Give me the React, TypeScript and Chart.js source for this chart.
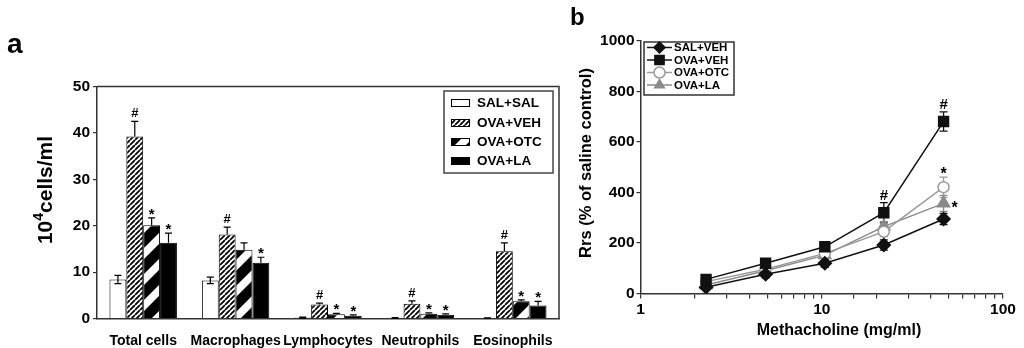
import { useEffect, useRef } from "react";
import { Chart, registerables } from "chart.js";
Chart.register(...registerables);

const FONT = "'Liberation Sans', Arial, Helvetica, sans-serif";

// ---------- Panel a: BAL cell counts ----------
const cellCategories = ["Total cells", "Macrophages", "Lymphocytes", "Neutrophils", "Eosinophils"];
const barSeriesNames = ["SAL+SAL", "OVA+VEH", "OVA+OTC", "OVA+LA"];
const salSalCells = [8.4, 8.2, 0.2, 0.15, 0.1];
const salSalCellsErr = [0.9, 0.7, 0.1, 0.05, 0.05];
const ovaVehCells = [39.2, 18.1, 3.0, 3.2, 14.5];
const ovaVehCellsErr = [3.3, 1.6, 0.3, 0.6, 1.8];
const ovaOtcCells = [20.1, 14.8, 0.9, 1.0, 3.7];
const ovaOtcCellsErr = [1.6, 1.5, 0.2, 0.2, 0.3];
const ovaLaCells = [16.3, 12.0, 0.6, 0.8, 2.8];
const ovaLaCellsErr = [2.1, 1.2, 0.2, 0.2, 0.9];
const salSalCellsMarks = ["", "", "", "", ""];
const ovaVehCellsMarks = ["#", "#", "#", "#", "#"];
const ovaOtcCellsMarks = ["*", "", "*", "*", "*"];
const ovaLaCellsMarks = ["*", "*", "*", "*", "*"];
const cellAxisMin = 0;
const cellAxisMax = 50;
const cellAxisStep = 10;

// ---------- Panel b: airway resistance ----------
const lineSeriesNames = ["SAL+VEH", "OVA+VEH", "OVA+OTC", "OVA+LA"];
const methacholineDoses = [2.3, 4.9, 10.4, 22, 47];
const salVehRrs = [25, 76, 120, 192, 295];
const salVehRrsErr = [10, 14, 16, 20, 22];
const ovaVehRrs = [56, 120, 185, 320, 681];
const ovaVehRrsErr = [12, 14, 15, 40, 38];
const ovaOtcRrs = [47, 96, 159, 245, 421];
const ovaOtcRrsErr = [10, 14, 15, 20, 40];
const ovaLaRrs = [34, 90, 152, 265, 357];
const ovaLaRrsErr = [10, 14, 15, 20, 32];
const salVehRrsMarks = ["", "", "", "", ""];
const ovaVehRrsMarks = ["", "", "", "#", "#"];
const ovaOtcRrsMarks = ["", "", "", "", "*"];
const ovaLaRrsMarks = ["", "", "", "", "*"];
const doseTickLabels = [1, 10, 100];
const rrsAxisMin = 0;
const rrsAxisMax = 1000;
const rrsAxisStep = 200;

function makeHatch(): CanvasPattern | string {
  const s = 5;
  const c = document.createElement("canvas");
  c.width = s;
  c.height = s;
  const g = c.getContext("2d")!;
  g.fillStyle = "#fff";
  g.fillRect(0, 0, s, s);
  g.strokeStyle = "#000";
  g.lineWidth = 1.8;
  g.beginPath();
  for (let k = -1; k <= 1; k++) {
    g.moveTo(k * s, s);
    g.lineTo(k * s + s, 0);
  }
  g.stroke();
  return g.createPattern(c, "repeat") || "#888";
}

function makeStripes(): CanvasPattern | string {
  const P = 26;
  const c = document.createElement("canvas");
  c.width = P;
  c.height = P;
  const g = c.getContext("2d")!;
  g.fillStyle = "#000";
  g.fillRect(0, 0, P, P);
  g.fillStyle = "#fff";
  const c1 = 2;
  const c2 = 13;
  for (let k = -1; k <= 2; k++) {
    g.beginPath();
    g.moveTo(c1 + k * P, 0);
    g.lineTo(c2 + k * P, 0);
    g.lineTo(c2 + k * P - P, P);
    g.lineTo(c1 + k * P - P, P);
    g.closePath();
    g.fill();
  }
  return g.createPattern(c, "repeat") || "#444";
}

export default function App() {
  const refA = useRef<HTMLCanvasElement>(null);
  const refB = useRef<HTMLCanvasElement>(null);

  useEffect(() => {
    const hatch = makeHatch();
    const stripes = makeStripes();
    const fills = ["#fff", hatch, stripes, "#000"];
    const barValues = [salSalCells, ovaVehCells, ovaOtcCells, ovaLaCells];
    const barErrs = [salSalCellsErr, ovaVehCellsErr, ovaOtcCellsErr, ovaLaCellsErr];
    const barMarks = [salSalCellsMarks, ovaVehCellsMarks, ovaOtcCellsMarks, ovaLaCellsMarks];

    const panelAPlugin = {
      id: "panelA",
      afterDatasetsDraw(chart: any) {
        const ctx = chart.ctx as CanvasRenderingContext2D;
        const ys = chart.scales.y;
        const area = chart.chartArea;
        ctx.save();
        chart.data.datasets.forEach((ds: any, di: number) => {
          const meta = chart.getDatasetMeta(di);
          meta.data.forEach((bar: any, i: number) => {
            const v = ds.data[i];
            const e = barErrs[di][i];
            const x = bar.x;
            const yTop = ys.getPixelForValue(v + e);
            const yV = ys.getPixelForValue(v);
            const yBot = di === 0 ? ys.getPixelForValue(Math.max(0, v - e)) : yV;
            ctx.strokeStyle = "#000";
            ctx.lineWidth = 1.2;
            ctx.beginPath();
            ctx.moveTo(x, yBot);
            ctx.lineTo(x, yTop);
            ctx.moveTo(x - 3.5, yTop);
            ctx.lineTo(x + 3.5, yTop);
            if (di === 0) {
              ctx.moveTo(x - 3.5, yBot);
              ctx.lineTo(x + 3.5, yBot);
            }
            ctx.stroke();
            const m = barMarks[di][i];
            if (m) {
              ctx.fillStyle = "#000";
              ctx.textAlign = "center";
              ctx.textBaseline = "alphabetic";
              if (m === "#") {
                ctx.font = `bold 13px ${FONT}`;
                ctx.fillText(m, x, yTop - 4);
              } else {
                ctx.font = `bold 15px ${FONT}`;
                ctx.fillText(m, x, yTop + 1);
              }
            }
          });
        });
        ctx.strokeStyle = "#333";
        ctx.lineWidth = 1.5;
        ctx.beginPath();
        ctx.moveTo(area.left, area.top);
        ctx.lineTo(area.right, area.top);
        ctx.lineTo(area.right, area.bottom);
        ctx.stroke();
        const lx = 444, ly = 91, lw = 109, lh = 82;
        ctx.fillStyle = "#fff";
        ctx.fillRect(lx, ly, lw, lh);
        ctx.strokeStyle = "#444";
        ctx.lineWidth = 1.5;
        ctx.strokeRect(lx, ly, lw, lh);
        const rows = [103, 123, 142, 161];
        barSeriesNames.forEach((name, k) => {
          const ry = rows[k];
          ctx.fillStyle = fills[k] as any;
          ctx.fillRect(451, ry - 4, 19, 8);
          ctx.strokeStyle = "#000";
          ctx.lineWidth = 1;
          ctx.strokeRect(451.5, ry - 3.5, 18, 7);
          ctx.fillStyle = "#000";
          ctx.font = `bold 13.5px ${FONT}`;
          ctx.textAlign = "left";
          ctx.textBaseline = "middle";
          ctx.fillText(name, 477, ry + 0.5);
        });
        ctx.translate(52, 190);
        ctx.rotate(-Math.PI / 2);
        ctx.fillStyle = "#000";
        ctx.textBaseline = "alphabetic";
        ctx.textAlign = "left";
        const big = `bold 21px ${FONT}`;
        const small = `bold 14px ${FONT}`;
        ctx.font = big;
        const w1 = ctx.measureText("10").width;
        const w3 = ctx.measureText("cells/ml").width;
        ctx.font = small;
        const w2 = ctx.measureText("4").width;
        const W = w1 + w2 + w3;
        let px = -W / 2;
        ctx.font = big;
        ctx.fillText("10", px, 0);
        px += w1;
        ctx.font = small;
        ctx.fillText("4", px, -9);
        px += w2;
        ctx.font = big;
        ctx.fillText("cells/ml", px, 0);
        ctx.restore();
        ctx.save();
        ctx.fillStyle = "#000";
        ctx.font = `bold 28px ${FONT}`;
        ctx.textAlign = "left";
        ctx.textBaseline = "alphabetic";
        ctx.fillText("a", 7, 53);
        ctx.restore();
      },
    };

    const chartA = new Chart(refA.current!, {
      type: "bar",
      data: {
        labels: cellCategories,
        datasets: barSeriesNames.map((name, k) => ({
          label: name,
          data: barValues[k],
          backgroundColor: fills[k] as any,
          borderColor: "#000",
          borderWidth: 1,
          categoryPercentage: 0.73,
          barPercentage: 1,
        })),
      },
      options: {
        responsive: false,
        animation: false,
        devicePixelRatio: 1,
        layout: { padding: { top: 86.5, right: 6, left: 0, bottom: 0 } },
        plugins: { legend: { display: false }, tooltip: { enabled: false } },
        scales: {
          x: {
            grid: { display: false },
            border: { display: true, color: "#333", width: 1.5 },
            ticks: { color: "#000", font: { family: FONT, size: 14, weight: "bold" }, padding: 6, maxRotation: 0, autoSkip: false },
            afterFit: (s: any) => { s.height = 29.5; },
          },
          y: {
            min: cellAxisMin,
            max: cellAxisMax,
            ticks: { stepSize: cellAxisStep, color: "#000", font: { family: FONT, size: 15.5, weight: "bold" }, padding: 3 },
            grid: { drawOnChartArea: false, drawTicks: true, tickLength: 4, color: "#333", lineWidth: 1.2 },
            border: { display: true, color: "#333", width: 1.5 },
            afterFit: (s: any) => { s.width = 97; },
          },
        },
      },
      plugins: [panelAPlugin],
    } as any);

    const lineValues = [salVehRrs, ovaVehRrs, ovaOtcRrs, ovaLaRrs];
    const lineErrs = [salVehRrsErr, ovaVehRrsErr, ovaOtcRrsErr, ovaLaRrsErr];
    const lineMarks = [salVehRrsMarks, ovaVehRrsMarks, ovaOtcRrsMarks, ovaLaRrsMarks];
    const lineColors = ["#111", "#111", "#9a9a9a", "#8a8a8a"];
    const markerFill = ["#111", "#111", "#fff", "#8a8a8a"];
    const markerStroke = ["#111", "#111", "#9a9a9a", "#8a8a8a"];
    const markerStyle = ["rectRot", "rect", "circle", "triangle"];
    const markerRadius = [6.5, 7, 5.5, 7];

    const drawMarker = (ctx: CanvasRenderingContext2D, k: number, x: number, y: number, r: number) => {
      ctx.fillStyle = markerFill[k];
      ctx.strokeStyle = markerStroke[k];
      ctx.lineWidth = 1.5;
      ctx.beginPath();
      const st = markerStyle[k];
      if (st === "rectRot") {
        ctx.moveTo(x, y - r); ctx.lineTo(x + r, y); ctx.lineTo(x, y + r); ctx.lineTo(x - r, y); ctx.closePath();
      } else if (st === "rect") {
        const h = r * Math.SQRT1_2;
        ctx.rect(x - h, y - h, 2 * h, 2 * h);
      } else if (st === "circle") {
        ctx.arc(x, y, r, 0, Math.PI * 2);
      } else {
        for (let j = 0; j < 3; j++) {
          const a = (j * 2 * Math.PI) / 3;
          const px = x + Math.sin(a) * r;
          const py = y - Math.cos(a) * r;
          if (j === 0) ctx.moveTo(px, py); else ctx.lineTo(px, py);
        }
        ctx.closePath();
      }
      ctx.fill();
      ctx.stroke();
    };

    const panelBPlugin = {
      id: "panelB",
      beforeDatasetsDraw(chart: any) {
        const ctx = chart.ctx as CanvasRenderingContext2D;
        const xs = chart.scales.x;
        const ys = chart.scales.y;
        ctx.save();
        lineValues.forEach((vals, k) => {
          ctx.strokeStyle = lineColors[k];
          ctx.lineWidth = 1.3;
          vals.forEach((v, i) => {
            const x = xs.getPixelForValue(methacholineDoses[i]);
            const yt = ys.getPixelForValue(v + lineErrs[k][i]);
            const yb = ys.getPixelForValue(v - lineErrs[k][i]);
            ctx.beginPath();
            ctx.moveTo(x, yb); ctx.lineTo(x, yt);
            ctx.moveTo(x - 4, yt); ctx.lineTo(x + 4, yt);
            ctx.moveTo(x - 4, yb); ctx.lineTo(x + 4, yb);
            ctx.stroke();
          });
        });
        ctx.restore();
      },
      afterDraw(chart: any) {
        const ctx = chart.ctx as CanvasRenderingContext2D;
        const xs = chart.scales.x;
        const ys = chart.scales.y;
        ctx.save();
        lineValues.forEach((vals, k) => {
          vals.forEach((v, i) => {
            const m = lineMarks[k][i];
            if (!m) return;
            const x = xs.getPixelForValue(methacholineDoses[i]);
            const yt = ys.getPixelForValue(v + lineErrs[k][i]);
            ctx.fillStyle = "#000";
            ctx.textBaseline = "alphabetic";
            if (m === "#") {
              ctx.font = `bold 15px ${FONT}`;
              ctx.textAlign = "center";
              ctx.fillText(m, x, yt - 3);
            } else if (k === 3) {
              ctx.font = `bold 16px ${FONT}`;
              ctx.textAlign = "left";
              ctx.fillText(m, x + 8, ys.getPixelForValue(v) + 10);
            } else {
              ctx.font = `bold 16px ${FONT}`;
              ctx.textAlign = "center";
              ctx.fillText(m, x, yt + 2);
            }
          });
        });
        const bx = 644 - 565, by = 42, bw = 90, bh = 53;
        ctx.fillStyle = "#fff";
        ctx.fillRect(bx, by, bw, bh);
        ctx.strokeStyle = "#333";
        ctx.lineWidth = 1.5;
        ctx.strokeRect(bx, by, bw, bh);
        const rows = [47.5, 60, 72.5, 85];
        lineSeriesNames.forEach((name, k) => {
          const ry = rows[k];
          ctx.strokeStyle = lineColors[k];
          ctx.lineWidth = 1.5;
          ctx.beginPath();
          ctx.moveTo(647 - 565, ry);
          ctx.lineTo(672 - 565, ry);
          ctx.stroke();
          drawMarker(ctx, k, 659.5 - 565, ry, k === 1 ? 6.5 : 5.5);
          ctx.fillStyle = "#000";
          ctx.font = `bold 11.5px ${FONT}`;
          ctx.textAlign = "left";
          ctx.textBaseline = "middle";
          ctx.fillText(name, 674 - 565, ry + 0.5);
        });
        ctx.fillStyle = "#000";
        ctx.font = `bold 16px ${FONT}`;
        ctx.textAlign = "center";
        ctx.textBaseline = "middle";
        ctx.fillText("Methacholine (mg/ml)", 839 - 565, 331);
        ctx.save();
        ctx.translate(586 - 565, 163);
        ctx.rotate(-Math.PI / 2);
        ctx.font = `bold 16.5px ${FONT}`;
        ctx.fillText("Rrs (% of saline control)", 0, 0);
        ctx.restore();
        ctx.font = `bold 24px ${FONT}`;
        ctx.textAlign = "left";
        ctx.textBaseline = "alphabetic";
        ctx.fillText("b", 5, 25);
        ctx.restore();
      },
    };

    const chartB = new Chart(refB.current!, {
      type: "line",
      data: {
        datasets: lineSeriesNames.map((name, k) => ({
          label: name,
          data: methacholineDoses.map((d, i) => ({ x: d, y: lineValues[k][i] })),
          borderColor: lineColors[k],
          backgroundColor: markerFill[k],
          borderWidth: 1.5,
          pointStyle: markerStyle[k],
          pointRadius: markerRadius[k],
          pointBackgroundColor: markerFill[k],
          pointBorderColor: markerStroke[k],
          pointBorderWidth: 1.5,
          tension: 0,
        })),
      },
      options: {
        responsive: false,
        animation: false,
        devicePixelRatio: 1,
        layout: { padding: { top: 41, right: 21, left: 0, bottom: 0 } },
        plugins: { legend: { display: false }, tooltip: { enabled: false } },
        scales: {
          x: {
            type: "logarithmic",
            min: doseTickLabels[0],
            max: doseTickLabels[doseTickLabels.length - 1],
            ticks: {
              autoSkip: false,
              maxRotation: 0,
              color: "#000",
              font: { family: FONT, size: 15.5, weight: "bold" },
              padding: 2,
              callback: (v: any) => (doseTickLabels.includes(Number(v)) ? String(v) : ""),
            },
            grid: { drawOnChartArea: false, drawTicks: true, tickLength: 5, color: "#333", lineWidth: 1.2 },
            border: { display: true, color: "#333", width: 1.5 },
            afterFit: (s: any) => { s.height = 54.5; },
          },
          y: {
            min: rrsAxisMin,
            max: rrsAxisMax,
            ticks: {
              stepSize: rrsAxisStep,
              color: "#000",
              font: { family: FONT, size: 15.5, weight: "bold" },
              padding: 2,
              callback: (v: any) => String(v),
            },
            grid: { drawOnChartArea: false, drawTicks: true, tickLength: 4, color: "#333", lineWidth: 1.2 },
            border: { display: true, color: "#333", width: 1.5 },
            afterFit: (s: any) => { s.width = 75.5; },
          },
        },
      },
      plugins: [panelBPlugin],
    } as any);

    return () => {
      chartA.destroy();
      chartB.destroy();
    };
  }, []);

  return (
    <div style={{ position: "fixed", left: 0, top: 0, width: 1024, height: 348, background: "#fff" }}>
      <canvas ref={refA} width={565} height={348} style={{ position: "absolute", left: 0, top: 0, width: 565, height: 348 }} />
      <canvas ref={refB} width={459} height={348} style={{ position: "absolute", left: 565, top: 0, width: 459, height: 348 }} />
    </div>
  );
}
